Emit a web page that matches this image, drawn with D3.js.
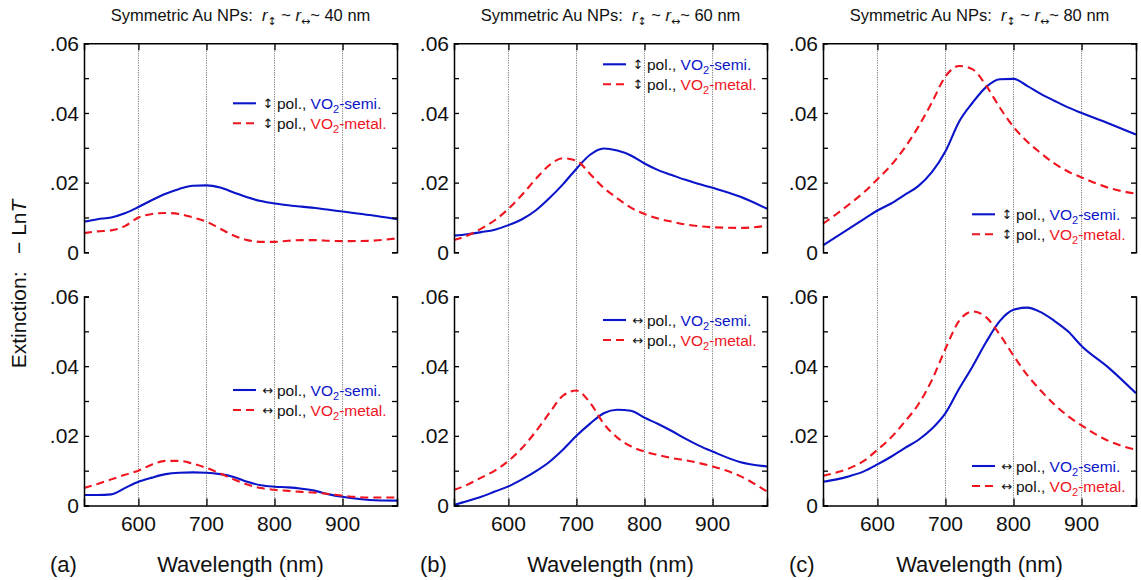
<!DOCTYPE html>
<html>
<head>
<meta charset="utf-8">
<script src="https://cdn.jsdelivr.net/npm/d3@7"></script>
<style>
  html, body { margin: 0; padding: 0; background: #fff; }
  svg { display: block; font-family: "Liberation Sans", Arial, Helvetica, sans-serif; }
</style>
</head>
<body>
<svg id="chart" width="1141" height="580"></svg>
<script>
// Wavelength grid (nm) shared by every spectrum
const wavelengthNm = [520, 540, 560, 580, 600, 620, 640, 660, 680, 700, 720, 740, 760, 780, 800, 820, 840, 860, 880, 900, 940, 980];

// Particle sizes, one column each
const sizesNm = [40, 60, 80];
const panelLetters = ["(a)", "(b)", "(c)"];

// Extinction (-Ln T), vertical polarisation
const vert40Semi  = [.0088, .0095, .0100, .0112, .0130, .0150, .0168, .0182, .0191, .0192, .0186, .0172, .0158, .0147, .0140, .0135, .0131, .0127, .0122, .0117, .0107, .0095];
const vert40Metal = [.0055, .0060, .0063, .0075, .0100, .0110, .0113, .0110, .0100, .0088, .0068, .0048, .0035, .0030, .0030, .0033, .0035, .0035, .0033, .0032, .0033, .0040];
const vert60Semi  = [.0048, .0052, .0058, .0065, .0078, .0095, .0120, .0155, .0195, .0240, .0280, .0298, .0292, .0278, .0255, .0236, .0222, .0208, .0196, .0185, .0160, .0125];
const vert60Metal = [.0035, .0048, .0068, .0092, .0125, .0165, .0210, .0250, .0270, .0263, .0225, .0185, .0155, .0128, .0110, .0097, .0088, .0080, .0075, .0072, .0070, .0076];
const vert80Semi  = [.0020, .0045, .0070, .0095, .0120, .0140, .0165, .0190, .0230, .0290, .0375, .0430, .0475, .0497, .0498, .0478, .0455, .0435, .0416, .0400, .0370, .0338];
const vert80Metal = [.0082, .0110, .0140, .0172, .0210, .0250, .0300, .0360, .0430, .0505, .0535, .0525, .0478, .0415, .0360, .0318, .0285, .0255, .0232, .0215, .0185, .0168];

// Extinction (-Ln T), horizontal polarisation
const horz40Semi  = [.0030, .0030, .0032, .0050, .0068, .0080, .0090, .0094, .0095, .0094, .0090, .0082, .0068, .0058, .0054, .0052, .0048, .0042, .0032, .0025, .0016, .0014];
const horz40Metal = [.0050, .0062, .0075, .0088, .0100, .0118, .0128, .0128, .0120, .0108, .0092, .0075, .0060, .0050, .0045, .0042, .0039, .0037, .0033, .0028, .0023, .0023];
const horz60Semi  = [.0002, .0013, .0025, .0040, .0055, .0075, .0098, .0125, .0160, .0200, .0235, .0265, .0275, .0272, .0252, .0234, .0214, .0192, .0172, .0155, .0125, .0112];
const horz60Metal = [.0045, .0060, .0080, .0100, .0128, .0165, .0212, .0265, .0315, .0330, .0295, .0235, .0195, .0170, .0155, .0145, .0136, .0130, .0122, .0112, .0085, .0040];
const horz80Semi  = [.0068, .0075, .0085, .0098, .0118, .0140, .0165, .0188, .0220, .0265, .0335, .0400, .0470, .0530, .0562, .0568, .0555, .0530, .0500, .0458, .0395, .0322];
const horz80Metal = [.0085, .0095, .0108, .0128, .0160, .0195, .0240, .0290, .0360, .0450, .0530, .0557, .0540, .0490, .0430, .0375, .0330, .0290, .0257, .0230, .0185, .0160];

// Axis ticks
const xTickValues = [600, 700, 800, 900];
const xTickLabels = ["600", "700", "800", "900"];
const yTickValues = [0, .01, .02, .03, .04, .05, .06];
const yTickLabels = {0: "0", 0.02: ".02", 0.04: ".04", 0.06: ".06"};

const svg = d3.select("#chart");
svg.append("rect").attr("width", 1141).attr("height", 580).attr("fill", "#fff");

const BLUE = "#0a14c8";
const RED = "#f0141e";
const colLeft = [84, 454, 823];
const panelW = 313;
const rowTop = [43.3, 296.5];
const panelH = 209;

const rowDefs = [
  { arrow: "\u2195", semi: [vert40Semi, vert60Semi, vert80Semi], metal: [vert40Metal, vert60Metal, vert80Metal], legendY: [60, 21, 171] },
  { arrow: "\u2194", semi: [horz40Semi, horz60Semi, horz80Semi], metal: [horz40Metal, horz60Metal, horz80Metal], legendY: [93.5, 23.5, 169.5] }
];

const x = d3.scaleLinear().domain([520, 980]).range([0, panelW]);

sizesNm.forEach((size, c) => {
  const col = svg.append("g").attr("transform", `translate(${colLeft[c]},0)`);

  // Title
  const title = col.append("text")
    .attr("x", panelW / 2).attr("y", 21)
    .attr("text-anchor", "middle")
    .attr("font-size", 16.5).attr("fill", "#111");
  title.append("tspan").text("Symmetric Au NPs:\u00a0\u00a0");
  title.append("tspan").attr("font-style", "italic").text("r");
  title.append("tspan").attr("font-size", 11).attr("dy", 4).attr("font-family", "DejaVu Sans").text("\u2195");
  title.append("tspan").attr("dy", -4).text(" ~ ");
  title.append("tspan").attr("font-style", "italic").text("r");
  title.append("tspan").attr("font-size", 11).attr("dy", 4).attr("font-family", "DejaVu Sans").text("\u2194");
  title.append("tspan").attr("dy", -4).text("~ " + size + " nm");

  // Dotted grid lines spanning both rows
  col.append("g").selectAll("line").data(xTickValues).join("line")
    .attr("x1", d => x(d)).attr("x2", d => x(d))
    .attr("y1", rowTop[0]).attr("y2", rowTop[1] + panelH)
    .attr("stroke", "#777").attr("stroke-width", 1).attr("stroke-dasharray", "1.2,1.2");

  rowDefs.forEach((row, r) => {
    const top = rowTop[r];
    const y = d3.scaleLinear().domain([0, 0.06]).range([top + panelH, top]);
    const g = col.append("g");

    // Curves
    const line = d3.line()
      .x((d, i) => x(wavelengthNm[i]))
      .y(d => y(d))
      .curve(d3.curveMonotoneX);
    g.append("path").attr("d", line(row.semi[c]))
      .attr("fill", "none").attr("stroke", BLUE).attr("stroke-width", 2.1);
    g.append("path").attr("d", line(row.metal[c]))
      .attr("fill", "none").attr("stroke", RED).attr("stroke-width", 2.1)
      .attr("stroke-dasharray", "8,5");

    // Left and right axes, ticks pointing inward
    const leftAxis = d3.axisRight(y).tickValues(yTickValues).tickSize(5).tickFormat("");
    const rightAxis = d3.axisLeft(y).tickValues(yTickValues).tickSize(5).tickFormat("");
    g.append("g").call(leftAxis);
    g.append("g").attr("transform", `translate(${panelW},0)`).call(rightAxis);
    g.selectAll(".domain").attr("stroke", "#000").attr("stroke-width", 1.5);
    g.selectAll(".tick line").attr("stroke", "#000").attr("stroke-width", 1.3);

    // Y tick labels
    g.append("g").selectAll("text").data(yTickValues.filter(v => yTickLabels[v] !== undefined)).join("text")
      .attr("x", -5).attr("y", d => y(d)).attr("dy", "0.36em")
      .attr("text-anchor", "end").attr("font-size", 21).attr("fill", "#111")
      .text(d => yTickLabels[d]);

    // Top border for the upper row, bottom axis for the lower row
    if (r === 0) {
      const topAxis = d3.axisBottom(x).tickValues(xTickValues).tickSize(7).tickFormat("");
      const ta = g.append("g").attr("transform", `translate(0,${top})`).call(topAxis);
      ta.select(".domain").attr("stroke", "#000").attr("stroke-width", 1.5);
      ta.selectAll(".tick line").attr("stroke", "#000").attr("stroke-width", 1.3);
    } else {
      const botAxis = d3.axisTop(x).tickValues(xTickValues).tickSize(7).tickFormat("");
      const ba = g.append("g").attr("transform", `translate(0,${top + panelH})`).call(botAxis);
      ba.select(".domain").attr("stroke", "#000").attr("stroke-width", 1.5);
      ba.selectAll(".tick line").attr("stroke", "#000").attr("stroke-width", 1.3);
      g.append("g").selectAll("text").data(xTickValues).join("text")
        .attr("x", d => x(d)).attr("y", 531)
        .attr("text-anchor", "middle").attr("font-size", 21).attr("fill", "#111")
        .text((d, i) => xTickLabels[i]);
    }

    // Legend
    const ly = top + row.legendY[c];
    const entries = [
      { color: BLUE, dash: null, label: "-semi.", y: ly },
      { color: RED, dash: "8,5", label: "-metal.", y: ly + 20 }
    ];
    entries.forEach(e => {
      g.append("line")
        .attr("x1", 149).attr("x2", 172).attr("y1", e.y).attr("y2", e.y)
        .attr("stroke", e.color).attr("stroke-width", 2.1)
        .attr("stroke-dasharray", e.dash);
      g.append("text")
        .attr("x", 184).attr("y", e.y).attr("dy", "0.36em")
        .attr("text-anchor", "middle").attr("font-size", 13)
        .attr("font-family", "DejaVu Sans").attr("fill", "#111")
        .text(row.arrow);
      const t = g.append("text").attr("x", 193).attr("y", e.y).attr("dy", "0.36em")
        .attr("font-size", 15.5).attr("fill", "#111");
      t.append("tspan").text("pol.,\u00a0");
      t.append("tspan").attr("fill", e.color).text("VO");
      t.append("tspan").attr("fill", e.color).attr("font-size", 11).attr("dy", 4).text("2");
      t.append("tspan").attr("fill", e.color).attr("dy", -4).text(e.label);
    });
  });

  // Panel letter and x axis title
  col.append("text").attr("x", -34).attr("y", 572)
    .attr("font-size", 22).attr("fill", "#111").text(panelLetters[c]);
  col.append("text").attr("x", panelW / 2).attr("y", 572)
    .attr("text-anchor", "middle").attr("font-size", 22).attr("fill", "#111")
    .text("Wavelength (nm)");
});

// Shared y axis title
const yTitle = svg.append("text")
  .attr("transform", "translate(26,284) rotate(-90)")
  .attr("text-anchor", "middle").attr("font-size", 21).attr("fill", "#111");
yTitle.append("tspan").text("Extinction:\u00a0\u00a0\u00a0\u2212\u00a0Ln");
yTitle.append("tspan").attr("font-style", "italic").text("T");
</script>
</body>
</html>
